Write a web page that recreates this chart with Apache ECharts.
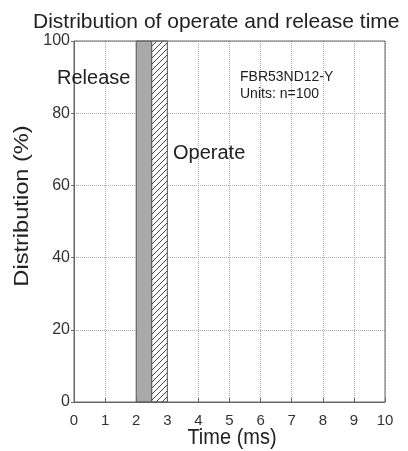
<!DOCTYPE html>
<html><head><meta charset="utf-8">
<script src="https://cdn.jsdelivr.net/npm/echarts@6/dist/echarts.min.js"></script>
<style>html,body{margin:0;padding:0;background:#fff}#c{width:408px;height:451px}</style>
</head><body><div id="c"></div>
<script>
var xTicks = [0,1,2,3,4,5,6,7,8,9,10];
var yTicks = [0,20,40,60,80,100];
var releaseRange = [2, 2.5];
var operateRange = [2.5, 3];
var distributionValue = 100;

function hatch(){
  var c = document.createElement('canvas');
  c.width = 6; c.height = 6;
  var g = c.getContext('2d');
  g.fillStyle = '#fff'; g.fillRect(0,0,6,6);
  g.strokeStyle = '#444'; g.lineWidth = 1;
  g.beginPath();
  g.moveTo(-1,7); g.lineTo(7,-1);
  g.moveTo(-4,4); g.lineTo(4,-4);
  g.moveTo(2,10); g.lineTo(10,2);
  g.stroke();
  return c;
}
var hatchImg = hatch();

var chart = echarts.init(document.getElementById('c'));
var font = 'Liberation Sans, Arial, sans-serif';
function rectItem(range, fillKind){
  return {
    type:'custom',
    data:[[range[0], range[1], distributionValue]],
    renderItem:function(params, api){
      var p0 = api.coord([api.value(0), api.value(2)]);
      var p1 = api.coord([api.value(1), 0]);
      return {type:'rect', shape:{x:p0[0], y:p0[1], width:p1[0]-p0[0], height:p1[1]-p0[1]},
        style:{fill: fillKind==='hatch' ? {image:hatchImg, repeat:'repeat'} : '#a9a9a9', stroke:'#555', lineWidth:1}};
    },
    z:3
  };
}
chart.setOption({
  animation:false,
  backgroundColor:'#fff',
  title:{text:'Distribution of operate and release time', left:28, top:7,
    textStyle:{fontFamily:font, fontSize:21, fontWeight:'normal', color:'#222'}},
  grid:{left:74, right:23, top:41, bottom:49},
  xAxis:{type:'value', min:0, max:10, interval:1,
    axisLine:{show:true, lineStyle:{color:'#666'}}, axisTick:{show:true, inside:true, length:4, lineStyle:{color:'#666'}},
    axisLabel:{fontFamily:font, fontSize:15, color:'#333', margin:11},
    splitLine:{show:true, lineStyle:{type:'dotted', color:'#aaa'}}},
  yAxis:{type:'value', min:0, max:100, interval:20,
    axisLine:{show:true, lineStyle:{color:'#666'}}, axisTick:{show:true, inside:false, length:3, lineStyle:{color:'#666'}},
    axisLabel:{fontFamily:font, fontSize:16, color:'#333', margin:4},
    splitLine:{show:true, lineStyle:{type:'dotted', color:'#aaa'}}},
  graphic:[
    {type:'rect', shape:{x:74, y:41, width:311, height:361}, style:{fill:'none', stroke:'#666', lineWidth:1}, z:10, silent:true},
    {type:'text', x:232, y:438, scaleY:1.1, style:{text:'Time (ms)', fontFamily:font, fontSize:20, fill:'#222', textAlign:'center', textVerticalAlign:'middle'}, z:20},
    {type:'text', x:22, y:206, rotation:Math.PI/2, scaleX:1.18, style:{text:'Distribution (%)', fontFamily:font, fontSize:20, fill:'#222', textAlign:'center', textVerticalAlign:'middle'}, z:20},
    {type:'text', left:57, top:68, style:{text:'Release', fontFamily:font, fontSize:20, fill:'#222'}, z:20},
    {type:'text', left:173, top:143, style:{text:'Operate', fontFamily:font, fontSize:20, fill:'#222'}, z:20},
    {type:'text', left:240, top:69, style:{text:'FBR53ND12-Y\nUnits: n=100', fontFamily:font, fontSize:14, lineHeight:17, fill:'#222'}, z:20}
  ],
  series:[rectItem(releaseRange,'gray'), rectItem(operateRange,'hatch')]
});
</script></body></html>
